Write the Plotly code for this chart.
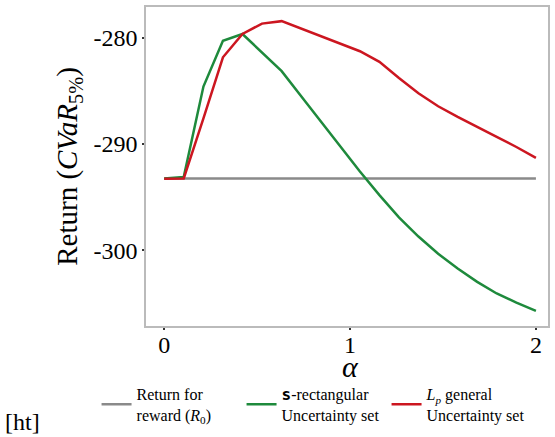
import plotly.graph_objects as go

alpha = [0.0, 0.105, 0.211, 0.316, 0.421, 0.526, 0.632, 0.737, 0.842, 0.947,
         1.053, 1.158, 1.263, 1.368, 1.474, 1.579, 1.684, 1.789, 1.895, 2.0]

baseline = [-293.24] * 20
s_rect = [-293.24, -293.10, -284.60, -280.30, -279.66, -281.40, -283.15, -285.52,
          -287.87, -290.28, -292.59, -294.81, -296.90, -298.70, -300.32, -301.71,
          -302.96, -304.05, -304.91, -305.68]
lp_general = [-293.27, -293.24, -287.60, -281.85, -279.66, -278.68, -278.45, -279.14,
              -279.85, -280.56, -281.28, -282.27, -283.80, -285.23, -286.45, -287.45,
              -288.43, -289.33, -290.28, -291.30]

names = ["Return for<br>reward (<i>R</i><sub>0</sub>)",
         "<span style=\"font-family:'DejaVu Sans Mono';font-weight:bold\">s</span>-rectangular<br>Uncertainty set",
         "<i>L</i><sub><i>p</i></sub> general<br>Uncertainty set"]
colors = ["#8a8a8a", "#1e8a3c", "#cc1620"]

y_ticks = [-280, -290, -300]
y_ticktext = ["-280", "-290", "-300"]
x_ticks = [0, 1, 2]
x_ticktext = ["0", "1", "2"]

FONT = "Liberation Serif"

fig = go.Figure()
for ys, nm, c in zip([baseline, s_rect, lp_general], names, colors):
    fig.add_trace(go.Scatter(x=alpha, y=ys, mode="lines", name=nm,
                             line=dict(color=c, width=2.5)))

fig.update_layout(
    width=555, height=437,
    margin=dict(l=146, r=7, t=5, b=109),
    paper_bgcolor="white", plot_bgcolor="white",
    font=dict(family=FONT, color="black"),
    showlegend=True,
    legend=dict(orientation="h", x=-0.123, xanchor="left", y=-0.16, yanchor="top",
                font=dict(family=FONT, size=16), valign="middle",
                entrywidth=100, entrywidthmode="pixels",
                bgcolor="rgba(0,0,0,0)"),
    annotations=[
        dict(text="[ht]", xref="paper", yref="paper", x=-0.356, y=-0.30,
             xanchor="left", yanchor="middle", showarrow=False,
             font=dict(family=FONT, size=24)),
        dict(text="<i>α</i>", xref="x", yref="paper", x=1, y=-0.126,
             xanchor="center", yanchor="middle", showarrow=False,
             font=dict(family=FONT, size=30)),
    ],
)
fig.update_xaxes(range=[-0.098, 2.065], tickvals=x_ticks, ticktext=x_ticktext,
                 showgrid=False, zeroline=False, showline=True, mirror=True,
                 linecolor="#bbbbbb", linewidth=1.5, ticks="outside", ticklen=2,
                 tickcolor="#333333", tickwidth=1.5, tickfont=dict(size=24),
                 ticklabelstandoff=-6)
fig.update_yaxes(range=[-307.11, -277.12], tickvals=y_ticks, ticktext=y_ticktext,
                 showgrid=False, zeroline=False, showline=True, mirror=True,
                 linecolor="#bbbbbb", linewidth=1.5, ticks="outside", ticklen=2,
                 tickcolor="#333333", tickwidth=1.5, tickfont=dict(size=24),
                 title=dict(text="Return (<i>CVaR</i><sub>5%</sub>)", font=dict(size=29), standoff=7))

fig.write_html("out.html", config={"displayModeBar": False},
               post_script="document.body.style.margin='0px';")
